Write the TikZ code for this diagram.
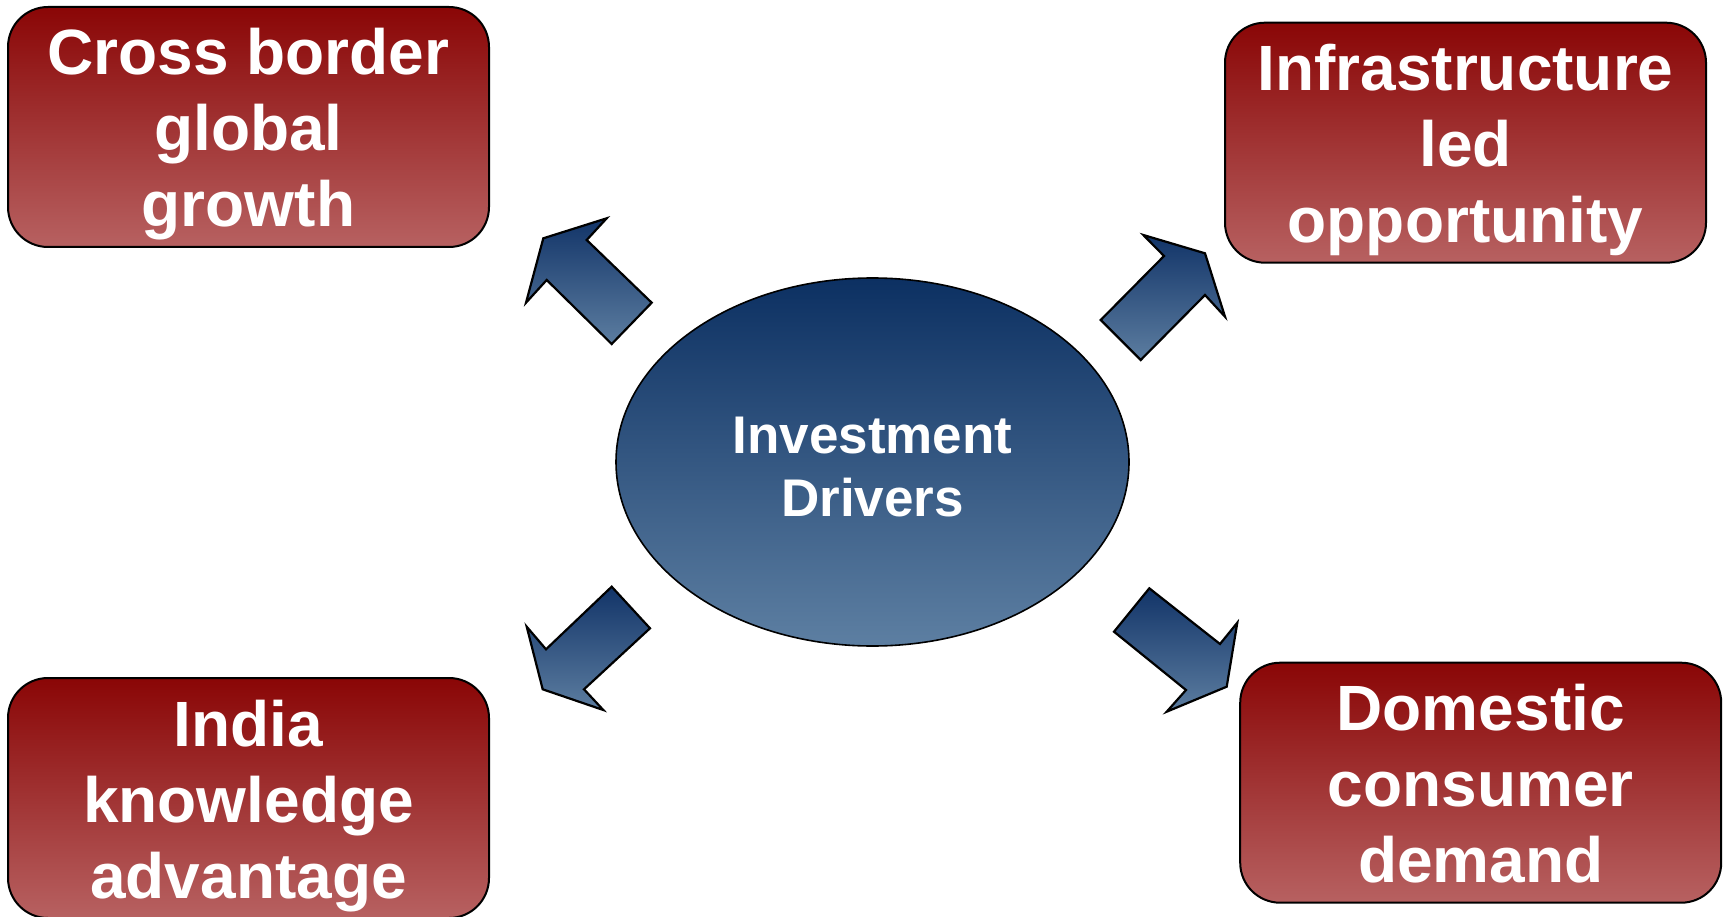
\documentclass[tikz,border=0pt]{standalone}
\usepackage{fontspec}
\setmainfont{Liberation Sans}
\usetikzlibrary{shapes.geometric}

\definecolor{redtop}{RGB}{138,6,6}
\definecolor{redbot}{RGB}{183,97,97}
\definecolor{navytop}{RGB}{12,48,98}
\definecolor{navybot}{RGB}{93,127,162}
\definecolor{arrtop}{RGB}{18,52,104}
\definecolor{arrbot}{RGB}{92,125,160}

% struts fixing line height/depth so the text blocks sit consistently
\newcommand\boxstrut{\rule[-14pt]{0pt}{76pt}}
\newcommand\ovalstrut{\rule[-9pt]{0pt}{63pt}}

\tikzset{
  driverbox/.style={rectangle, rounded corners=40pt, draw=black, line width=2pt,
    top color=redtop, bottom color=redbot, minimum width=481pt, minimum height=240pt,
    inner sep=0pt, align=center, text=white,
    font=\bfseries\fontsize{64}{76}\selectfont},
  hub/.style={ellipse, draw=black, line width=1.6pt,
    top color=navytop, bottom color=navybot, minimum width=513pt, minimum height=368pt,
    inner sep=0pt, align=center, text=white,
    font=\bfseries\fontsize{53}{63}\selectfont},
  blockarrow/.style={draw=black, line width=2.2pt, line join=miter,
    top color=arrtop, bottom color=arrbot}
}

\begin{document}
\begin{tikzpicture}[x=1pt, y=-1pt]
\useasboundingbox (0,0) rectangle (1729,917);

% central hub
\node[hub] (hub) at (872.5,462) {\ovalstrut Investment\\\ovalstrut Drivers};

% four driver boxes
\node[driverbox] (cross) at (248.5,127) {\boxstrut Cross border\\\boxstrut global\\\boxstrut growth};
\node[driverbox] (infra) at (1465.5,142.7) {\boxstrut Infrastructure\\\boxstrut led\\\boxstrut opportunity};
\node[driverbox] (india) at (248.5,798) {\boxstrut India\\\boxstrut knowledge\\\boxstrut advantage};
\node[driverbox] (domestic) at (1480.7,782.7) {\boxstrut Domestic\\\boxstrut consumer\\\boxstrut demand};

% block arrows pointing from the hub towards each box
\path[blockarrow] (606.7,218.3) -- (586.7,240) -- (651.7,302.7) -- (611.7,344)
  -- (546.7,280) -- (526,302.7) -- (543.3,238.3) -- cycle;
\path[blockarrow] (1143.3,235) -- (1205,253.3) -- (1225,316.7) -- (1205,295)
  -- (1140.7,360) -- (1100.7,320) -- (1164,256) -- cycle;
\path[blockarrow] (611.7,586.7) -- (650,628.3) -- (584,689.3) -- (603.3,710)
  -- (542.7,689.3) -- (526.7,626.7) -- (546,649.3) -- cycle;
\path[blockarrow] (1149.3,588.3) -- (1220,644) -- (1237.3,622.7) -- (1226.7,686.7)
  -- (1166.7,711.7) -- (1186,690) -- (1114,631.7) -- cycle;
\end{tikzpicture}
\end{document}
